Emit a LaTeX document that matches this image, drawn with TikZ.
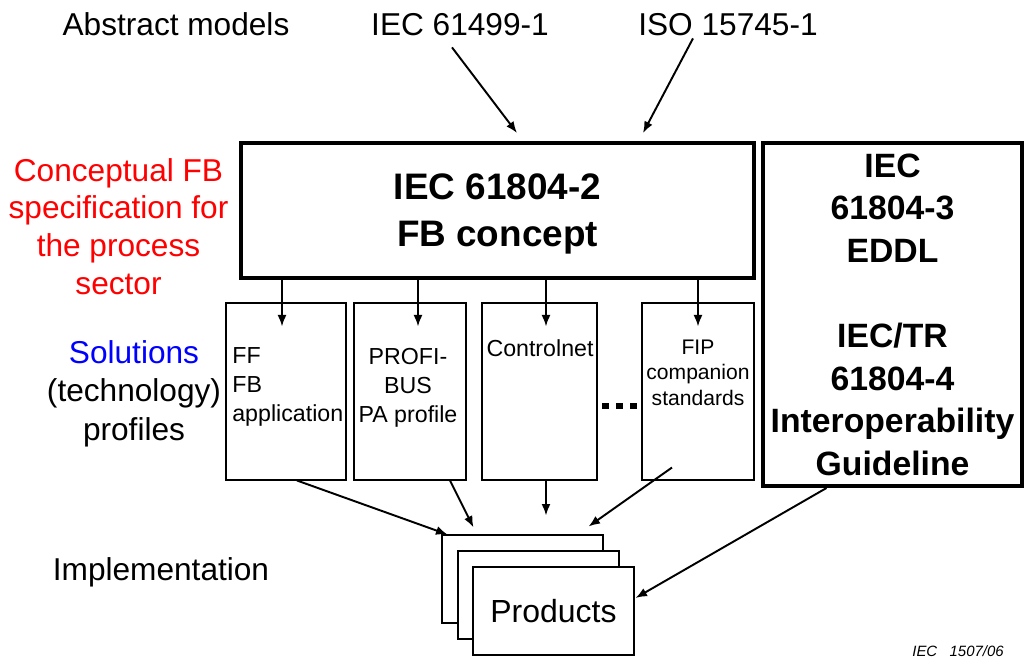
\documentclass[tikz,border=0pt]{standalone}
\usepackage{fontspec}
\setmainfont{Liberation Sans}
\usetikzlibrary{arrows.meta,calc}
\newcommand{\sizeL}{\fontsize{18}{21.6}\selectfont}
\newcommand{\sizeS}{\fontsize{13.2}{16.5}\selectfont}
\tikzset{
	plain/.style={inner sep=0pt, align=center, text depth=0pt},
	fatbox/.style={draw, line width=2.3pt, align=center, text depth=0pt},
	techbox/.style={draw, line width=0.6pt, minimum width=#1, minimum height=3.54cm},
	prodbox/.style={draw, line width=0.6pt, fill=white, minimum width=3.22cm, minimum height=1.76cm},
	arr/.style={line width=1.1pt, -{Latex[length=2.3mm,width=1.8mm]}},
}

\begin{document}
\begin{tikzpicture}[x=0.02cm, y=-0.02cm]
	%%%%% START %%%%%
	\useasboundingbox (0,0) rectangle (1024,663);
	
	% top row
	\node[plain, font=\sizeL] (abs) at (176,24) {Abstract models};
	\node[plain, font=\sizeL] (iec) at (460,24) {IEC 61499-1};
	\node[plain, font=\sizeL] (iso) at (728,24) {ISO 15745-1};
	
	% standards
	\node[fatbox, minimum width=10.26cm, minimum height=2.7cm, font=\bfseries\fontsize{21}{26.7}\selectfont] (fbc) at (497.5,210.5) {IEC 61804-2\\FB concept};
	\node[fatbox, minimum width=5.18cm, minimum height=6.86cm, font=\bfseries\fontsize{19.2}{24.2}\selectfont] (eddl) at (892.5,314.5) {IEC\\61804-3\\EDDL\\[24.2pt]IEC/TR\\61804-4\\Interoperability\\Guideline};
	
	% left column
	\node[plain, font=\sizeL, text=red] (concept) at (118.5,226.5) {Conceptual FB\\specification for\\the process\\sector};
	\node[plain, font=\fontsize{18}{22}\selectfont] (sol) at (134,390.5) {\textcolor{blue}{Solutions}\\(technology)\\profiles};
	\node[plain, font=\sizeL] (impl) at (161,569) {Implementation};
	
	% technology profiles
	\node[techbox=2.4cm] (ff) at (286,391.5) {};
	\node[techbox=2.24cm] (pbus) at (410,391.5) {};
	\node[techbox=2.3cm] (cnet) at (539.5,391.5) {};
	\node[techbox=2.24cm] (fip) at (698,391.5) {};
	\node[plain, align=left, anchor=west, font=\sizeS] (fftxt) at (232,385) {FF\\FB\\application};
	\node[plain, font=\sizeS] (pbtxt) at (408,385) {PROFI-\\BUS\\PA profile};
	\node[plain, font=\sizeS] (cntxt) at (540,348) {Controlnet};
	\node[plain, font=\fontsize{12}{14.5}\selectfont] (fiptxt) at (698,372.5) {FIP\\companion\\standards};
	\foreach \dx in {0,14,28}
		\fill ($(cnet.east)+(4+\dx,17.5)$) rectangle ++(7,-6);
	
	% products
	\node[prodbox] (prodA) at (522.5,579) {};
	\node[prodbox] (prodB) at (538.5,595) {};
	\node[prodbox, font=\fontsize{18.2}{22}\selectfont] (prodC) at (553.5,611) {Products};
	
	% arrows
	\draw[arr] ($(iec.south)+(-8,12)$) -- ($(fbc.north)+(19.5,-8)$);
	\draw[arr] ($(iso.south)+(-35,3)$) -- ($(fbc.north)+(145.5,-8)$);
	\foreach \b/\dx in {ff/-4, pbus/8, cnet/6.5, fip/0}
		\draw[arr] ($(\b.north |- fbc.south)+(\dx,0)$) -- ($(\b.north)+(\dx,24)$);
	\draw[arr] ($(ff.south)+(11,0)$) -- ($(prodA.north west)+(6,0)$);
	\draw[arr] ($(pbus.south)+(40,0)$) -- ($(prodA.north west)+(32,-7)$);
	\draw[arr] ($(cnet.south)+(6.5,0)$) -- ($(cnet.south)+(6.5,35)$);
	\draw[arr] ($(fip.south)+(-26,-13)$) -- ($(prodA.north east)+(-15,-8)$);
	\draw[arr] ($(eddl.south)+(-66,0)$) -- ($(prodC.east)+(1,-13)$);
	
	\node[plain, font=\itshape\fontsize{8.5}{10}\selectfont] (fig) at (958,651) {IEC\ \ \ 1507/06};
	%%%%% END %%%%%
\end{tikzpicture}
\end{document}
